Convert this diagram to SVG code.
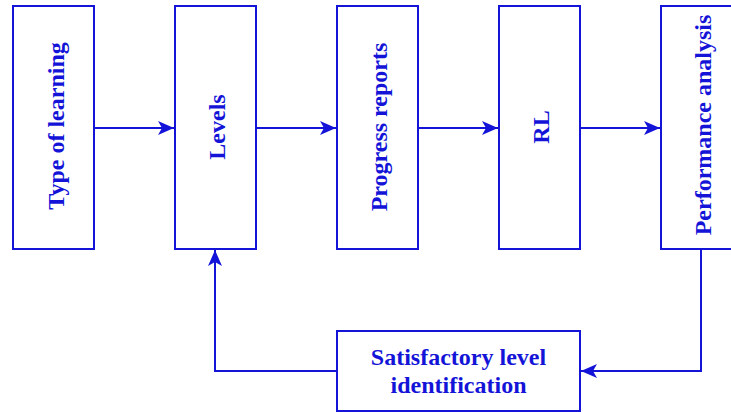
<svg xmlns="http://www.w3.org/2000/svg" width="731" height="412" viewBox="0 0 731 412">
<style>
.box{fill:#ffffff;stroke:#1414d8;stroke-width:2}
.lbl{font-family:"Liberation Serif","Times New Roman",serif;font-weight:bold;font-size:24px;fill:#1414d8;text-anchor:middle;dominant-baseline:central}
.edge{fill:none;stroke:#1414d8;stroke-width:2}
</style>
<defs>
<marker id="arr" markerUnits="userSpaceOnUse" markerWidth="18" markerHeight="16" refX="16" refY="7" orient="auto">
<path d="M0,0 L16,7 L0,14 L4,7 z" fill="#1414d8"/>
</marker>
</defs>
<rect width="731" height="412" fill="#ffffff"/>
<g id="connectors">
<path class="edge" d="M94,128 H174" marker-end="url(#arr)"/>
<path class="edge" d="M256,128 H336" marker-end="url(#arr)"/>
<path class="edge" d="M418,128 H498" marker-end="url(#arr)"/>
<path class="edge" d="M580,128 H660" marker-end="url(#arr)"/>
<path class="edge" d="M701,249 V371 H581" marker-end="url(#arr)"/>
<path class="edge" d="M337,371 H215 V250" marker-end="url(#arr)"/>
</g>
<g id="type-of-learning">
<rect class="box" x="13" y="6" width="81" height="243"/>
<text class="lbl" transform="translate(56,126) rotate(-90)">Type of learning</text>
</g>
<g id="levels">
<rect class="box" x="175" y="6" width="81" height="243"/>
<text class="lbl" transform="translate(217,127) rotate(-90)">Levels</text>
</g>
<g id="progress-reports">
<rect class="box" x="337" y="6" width="81" height="243"/>
<text class="lbl" transform="translate(379,127) rotate(-90)">Progress reports</text>
</g>
<g id="rl">
<rect class="box" x="499" y="6" width="81" height="243"/>
<text class="lbl" transform="translate(541,127) rotate(-90)">RL</text>
</g>
<g id="performance-analysis">
<rect class="box" x="661" y="6" width="81" height="243"/>
<text class="lbl" transform="translate(703,125) rotate(-90)">Performance analysis</text>
</g>
<g id="satisfactory-level-identification">
<rect class="box" x="337" y="331" width="243" height="80"/>
<text class="lbl" x="458.5" y="357">Satisfactory level</text>
<text class="lbl" x="458.5" y="385">identification</text>
</g>
</svg>
